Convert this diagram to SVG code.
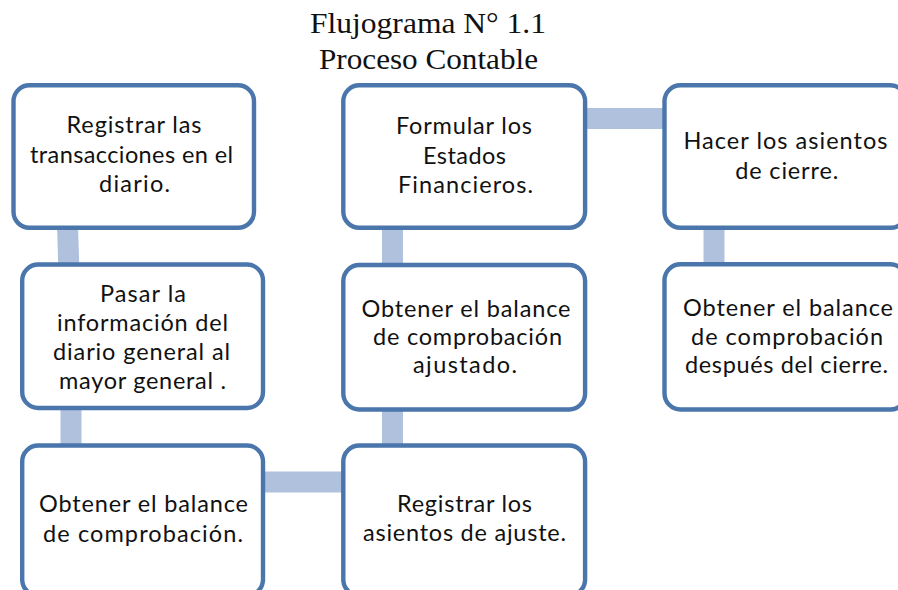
<svg xmlns="http://www.w3.org/2000/svg" width="898" height="590" viewBox="0 0 898 590">
<style>
.box{fill:#ffffff;stroke:#4a76ac;stroke-width:4.4}
.con{stroke:#afc1dd;stroke-width:21;fill:none}
.t{font-family:Lato,"Liberation Sans",sans-serif;font-size:23.5px;fill:#111111;text-anchor:middle}
.title{font-family:"Liberation Serif","Times New Roman",serif;font-size:30px;fill:#111111;text-anchor:middle}
</style>
<rect width="898" height="590" fill="#ffffff"/>
<g id="title">
<text class="title" x="428" y="33" textLength="236" lengthAdjust="spacingAndGlyphs">Flujograma  N° 1.1</text>
<text class="title" x="428.5" y="69" textLength="219" lengthAdjust="spacingAndGlyphs">Proceso Contable</text>
</g>
<g id="connectors">
<line class="con" x1="67.5" y1="226" x2="68.8" y2="266"/>
<line class="con" x1="71" y1="407" x2="71" y2="447"/>
<line class="con" x1="262" y1="482" x2="345" y2="482"/>
<line class="con" x1="392.5" y1="407" x2="392.5" y2="447"/>
<line class="con" x1="392.5" y1="226" x2="392.5" y2="266"/>
<line class="con" x1="584" y1="118.5" x2="666" y2="118.5"/>
<line class="con" x1="714" y1="226" x2="714" y2="266"/>
</g>
<g id="n1">
<rect class="box" x="13.5" y="85.3" width="240.5" height="142.5" rx="16"/>
<text class="t" x="134" y="133" textLength="135" lengthAdjust="spacing">Registrar las</text>
<text class="t" x="131.5" y="162.5" textLength="203" lengthAdjust="spacing">transacciones en el</text>
<text class="t" x="134.5" y="191.5" textLength="71" lengthAdjust="spacing">diario.</text>
</g>
<g id="n2">
<rect class="box" x="22.2" y="264.5" width="240.8" height="143.5" rx="16"/>
<text class="t" x="143" y="302" textLength="86" lengthAdjust="spacing">Pasar la</text>
<text class="t" x="142.5" y="331" textLength="171" lengthAdjust="spacing">información del</text>
<text class="t" x="141.5" y="360" textLength="177" lengthAdjust="spacing">diario general al</text>
<text class="t" x="142.5" y="389" textLength="167" lengthAdjust="spacing">mayor general .</text>
</g>
<g id="n3">
<rect class="box" x="22.2" y="445.5" width="240.8" height="150" rx="16"/>
<text class="t" x="143.5" y="511.5" textLength="209" lengthAdjust="spacing">Obtener el balance</text>
<text class="t" x="143" y="541.5" textLength="200" lengthAdjust="spacing">de comprobación.</text>
</g>
<g id="n4">
<rect class="box" x="343.3" y="445.5" width="241.8" height="150" rx="16"/>
<text class="t" x="464.5" y="511.5" textLength="135" lengthAdjust="spacing">Registrar los</text>
<text class="t" x="464.5" y="541" textLength="203" lengthAdjust="spacing">asientos de ajuste.</text>
</g>
<g id="n5">
<rect class="box" x="343.3" y="265" width="241.8" height="144.5" rx="16"/>
<text class="t" x="466" y="316.5" textLength="209" lengthAdjust="spacing">Obtener el balance</text>
<text class="t" x="467.5" y="345" textLength="189" lengthAdjust="spacing">de comprobación</text>
<text class="t" x="465" y="373" textLength="104" lengthAdjust="spacing">ajustado.</text>
</g>
<g id="n6">
<rect class="box" x="343.3" y="85.3" width="241.8" height="142.5" rx="16"/>
<text class="t" x="464" y="134" textLength="136" lengthAdjust="spacing">Formular los</text>
<text class="t" x="464.5" y="163.5" textLength="83" lengthAdjust="spacing">Estados</text>
<text class="t" x="465.5" y="193" textLength="135" lengthAdjust="spacing">Financieros.</text>
</g>
<g id="n7">
<rect class="box" x="664.5" y="85.3" width="242" height="142.5" rx="16"/>
<text class="t" x="785.5" y="149" textLength="204" lengthAdjust="spacing">Hacer los  asientos</text>
<text class="t" x="786.7" y="179" textLength="103" lengthAdjust="spacing">de cierre.</text>
</g>
<g id="n8">
<rect class="box" x="664.5" y="264.3" width="242" height="145.2" rx="16"/>
<text class="t" x="788" y="316" textLength="210" lengthAdjust="spacing">Obtener el balance</text>
<text class="t" x="787" y="345" textLength="192" lengthAdjust="spacing">de comprobación</text>
<text class="t" x="786.5" y="373.3" textLength="203" lengthAdjust="spacing">después del cierre.</text>
</g>
</svg>
